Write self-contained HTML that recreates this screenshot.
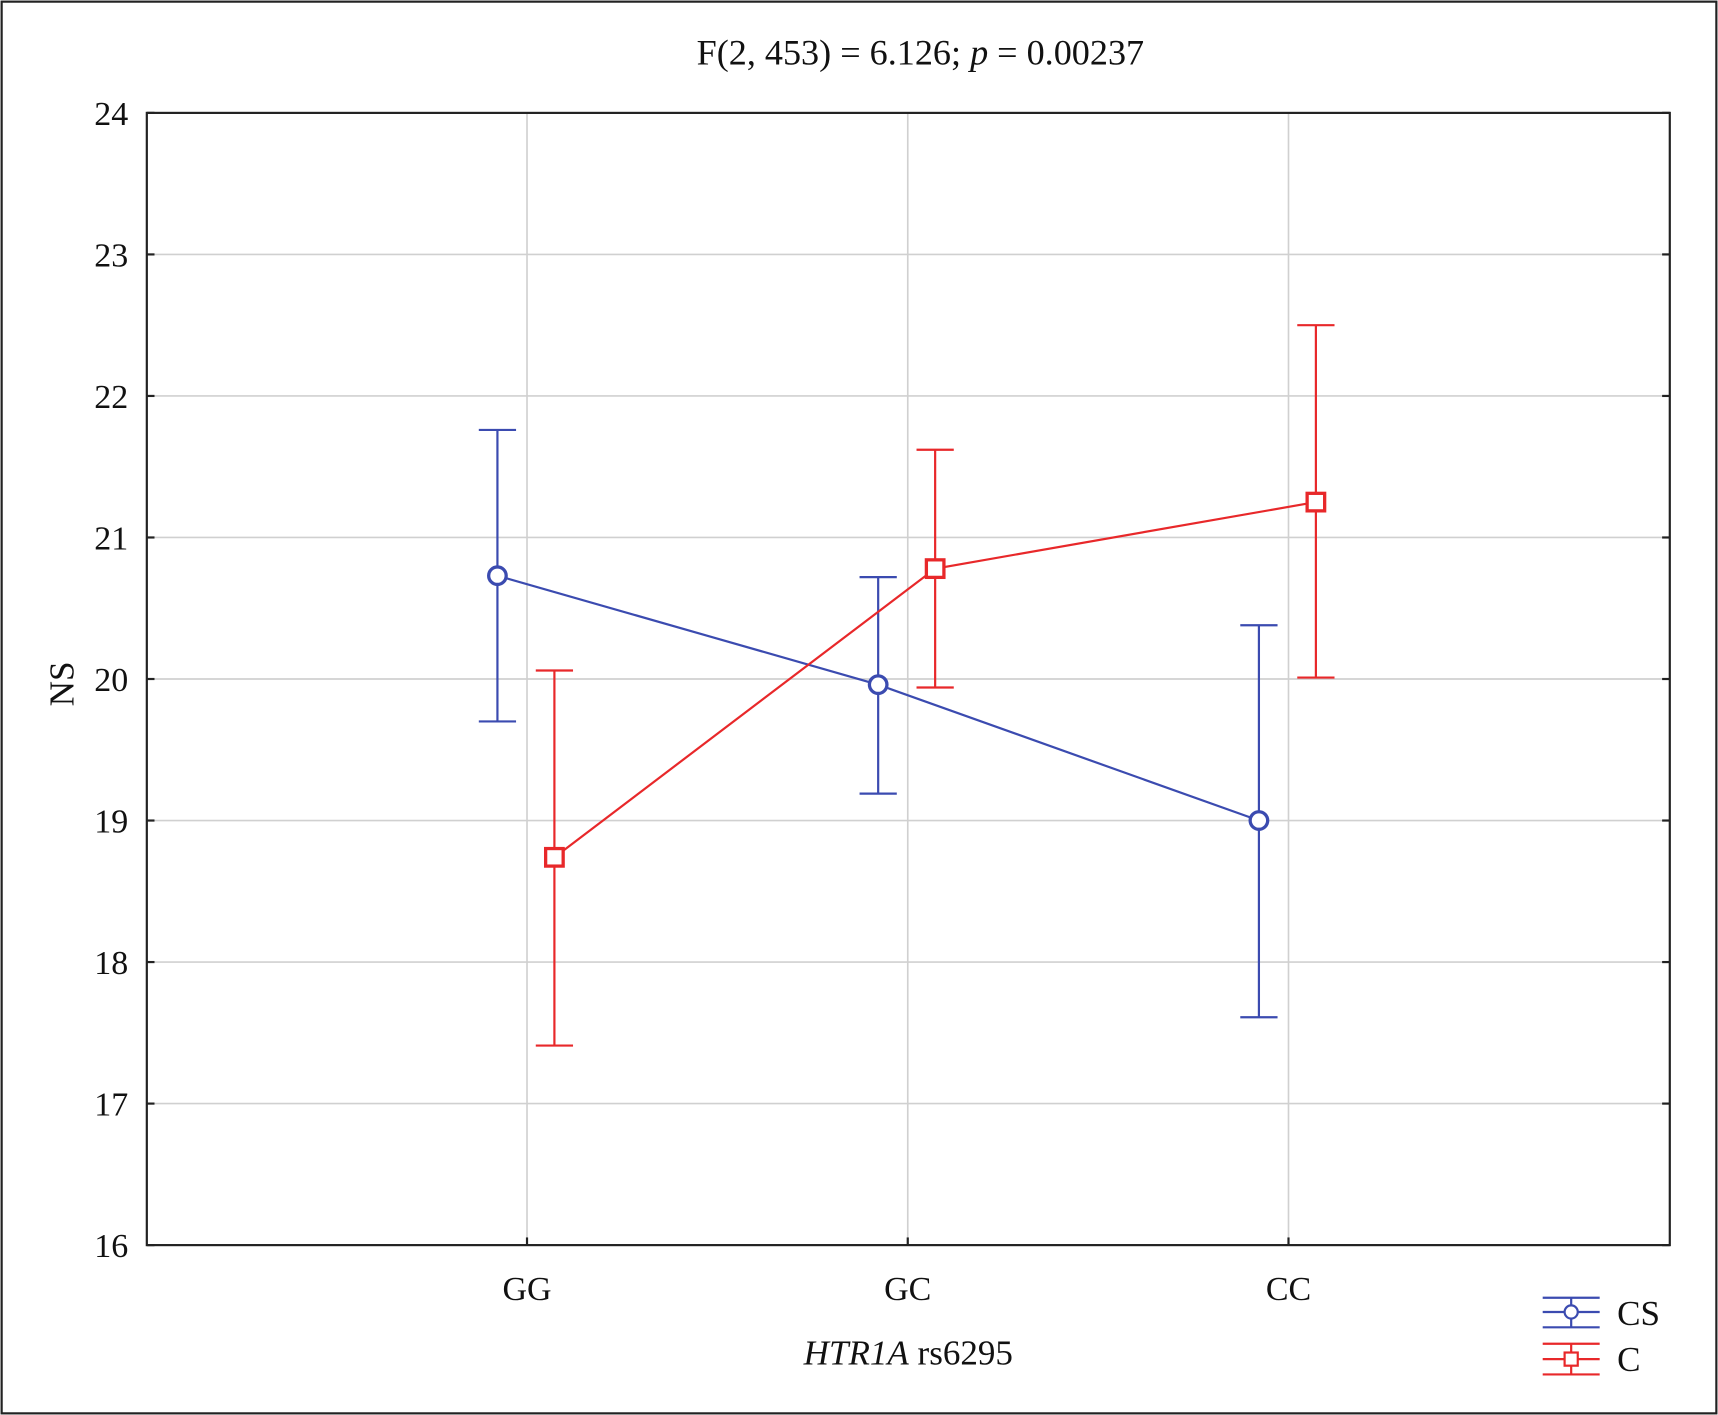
<!DOCTYPE html>
<html><head><meta charset="utf-8"><style>
html,body{margin:0;padding:0;background:#fff}
svg{display:block}
text{font-family:"Liberation Serif",serif;fill:#111}
</style></head><body>
<svg id="chart" width="1718" height="1415" viewBox="0 0 1568 1291" preserveAspectRatio="none" xmlns="http://www.w3.org/2000/svg">
<rect x="1.5" y="1.5" width="1565" height="1288" fill="#fff" stroke="#222" stroke-width="2"/>
<text x="840" y="59" font-size="33" text-anchor="middle">F(2, 453) = 6.126; <tspan font-style="italic">p</tspan> = 0.00237</text>
<g id="grid"></g>
<g id="axes"></g>
<g id="series"></g>
<text transform="translate(67,624) rotate(-90)" font-size="32" text-anchor="middle">NS</text>
<text x="829" y="1245" font-size="32" text-anchor="middle"><tspan font-style="italic">HTR1A</tspan> rs6295</text>
<g>
  <g>
    <line x1="1408" x2="1460" y1="1197" y2="1197" stroke="#3b4bb0" stroke-width="2"/>
    <line x1="1408" x2="1460" y1="1184" y2="1184" stroke="#3b4bb0" stroke-width="2"/>
    <line x1="1408" x2="1460" y1="1211" y2="1211" stroke="#3b4bb0" stroke-width="2"/>
    <line x1="1434" x2="1434" y1="1184" y2="1211" stroke="#3b4bb0" stroke-width="2"/>
    <circle cx="1434" cy="1197" r="6" fill="#fff" stroke="#3b4bb0" stroke-width="2"/>
    <text x="1476" y="1209" font-size="32">CS</text>
  </g>
  <g>
    <line x1="1408" x2="1460" y1="1240" y2="1240" stroke="#e8282a" stroke-width="2"/>
    <line x1="1408" x2="1460" y1="1226" y2="1226" stroke="#e8282a" stroke-width="2"/>
    <line x1="1408" x2="1460" y1="1254" y2="1254" stroke="#e8282a" stroke-width="2"/>
    <line x1="1434" x2="1434" y1="1226" y2="1254" stroke="#e8282a" stroke-width="2"/>
    <rect x="1428" y="1234" width="12" height="12" fill="#fff" stroke="#e8282a" stroke-width="2"/>
    <text x="1476" y="1251" font-size="32">C</text>
  </g>
</g>
</svg>
<script>
const categories = ["GG", "GC", "CC"];
const yTicks = [16, 17, 18, 19, 20, 21, 22, 23, 24];
const csMean = [20.73, 19.96, 19.0];
const csLow = [19.70, 19.19, 17.61];
const csHigh = [21.76, 20.72, 20.38];
const cMean = [18.74, 20.78, 21.25];
const cLow = [17.41, 19.94, 20.01];
const cHigh = [20.06, 21.62, 22.50];

const NS = "http://www.w3.org/2000/svg";
const L = 134, R = 1524, T = 103, B = 1136;
const yMin = 16, yMax = 24;
const y = v => B - (v - yMin) / (yMax - yMin) * (B - T);
const x = i => 481 + i * 347.5;
function mk(tag, attrs, parent) {
  const e = document.createElementNS(NS, tag);
  for (const k in attrs) e.setAttribute(k, attrs[k]);
  parent.appendChild(e);
  return e;
}
const grid = document.getElementById('grid');
const axes = document.getElementById('axes');
const series = document.getElementById('series');

yTicks.forEach(t => {
  if (t > yMin && t < yMax) {
    const g = mk('line', {x1: L, x2: R, y1: y(t), y2: y(t), stroke: '#d0d0d0', 'stroke-width': 1.5}, grid);
    
    
  }
  const tk = mk('line', {x1: L, x2: L + 7, y1: y(t), y2: y(t), stroke: '#222', 'stroke-width': 2}, axes);
  
  
  const tk2 = mk('line', {x1: R - 7, x2: R, y1: y(t), y2: y(t), stroke: '#222', 'stroke-width': 2}, axes);
  
  
  const lb = mk('text', {x: L - 17, y: y(t) + 11, 'font-size': 31, 'text-anchor': 'end'}, axes);
  lb.textContent = t;
  
  
});
categories.forEach((c, i) => {
  const g = mk('line', {x1: x(i), x2: x(i), y1: T, y2: B, stroke: '#d0d0d0', 'stroke-width': 1.5}, grid);
  
  
  const tk = mk('line', {x1: x(i), x2: x(i), y1: B - 7, y2: B, stroke: '#222', 'stroke-width': 2}, axes);
  
  
  const lb = mk('text', {x: x(i), y: B + 50, 'font-size': 31, 'text-anchor': 'middle'}, axes);
  lb.textContent = c;
  
  
});
const frame = mk('rect', {x: L, y: T, width: R - L, height: B - T, fill: 'none', stroke: '#222', 'stroke-width': 2}, axes);



function drawSeries(name, mean, low, high, off, color, marker) {
  const pts = mean.map((m, i) => (x(i) + off) + ',' + y(m)).join(' ');
  const pl = mk('polyline', {points: pts, fill: 'none', stroke: color, 'stroke-width': 2}, series);
  
  
  mean.forEach((m, i) => {
    const cx = x(i) + off;
    const eb = mk('path', {d: `M${cx},${y(low[i])}V${y(high[i])}M${cx - 17},${y(low[i])}H${cx + 17}M${cx - 17},${y(high[i])}H${cx + 17}`, stroke: color, 'stroke-width': 2, fill: 'none'}, series);
    
    
    let p;
    if (marker === 'circle') p = mk('circle', {cx: cx, cy: y(m), r: 8, fill: '#fff', stroke: color, 'stroke-width': 3}, series);
    else p = mk('rect', {x: cx - 8, y: y(m) - 8, width: 16, height: 16, fill: '#fff', stroke: color, 'stroke-width': 3}, series);
    
    
  });
}
drawSeries('cs', csMean, csLow, csHigh, -27, '#3b4bb0', 'circle');
drawSeries('c', cMean, cLow, cHigh, 25, '#e8282a', 'square');
</script>
</body></html>
